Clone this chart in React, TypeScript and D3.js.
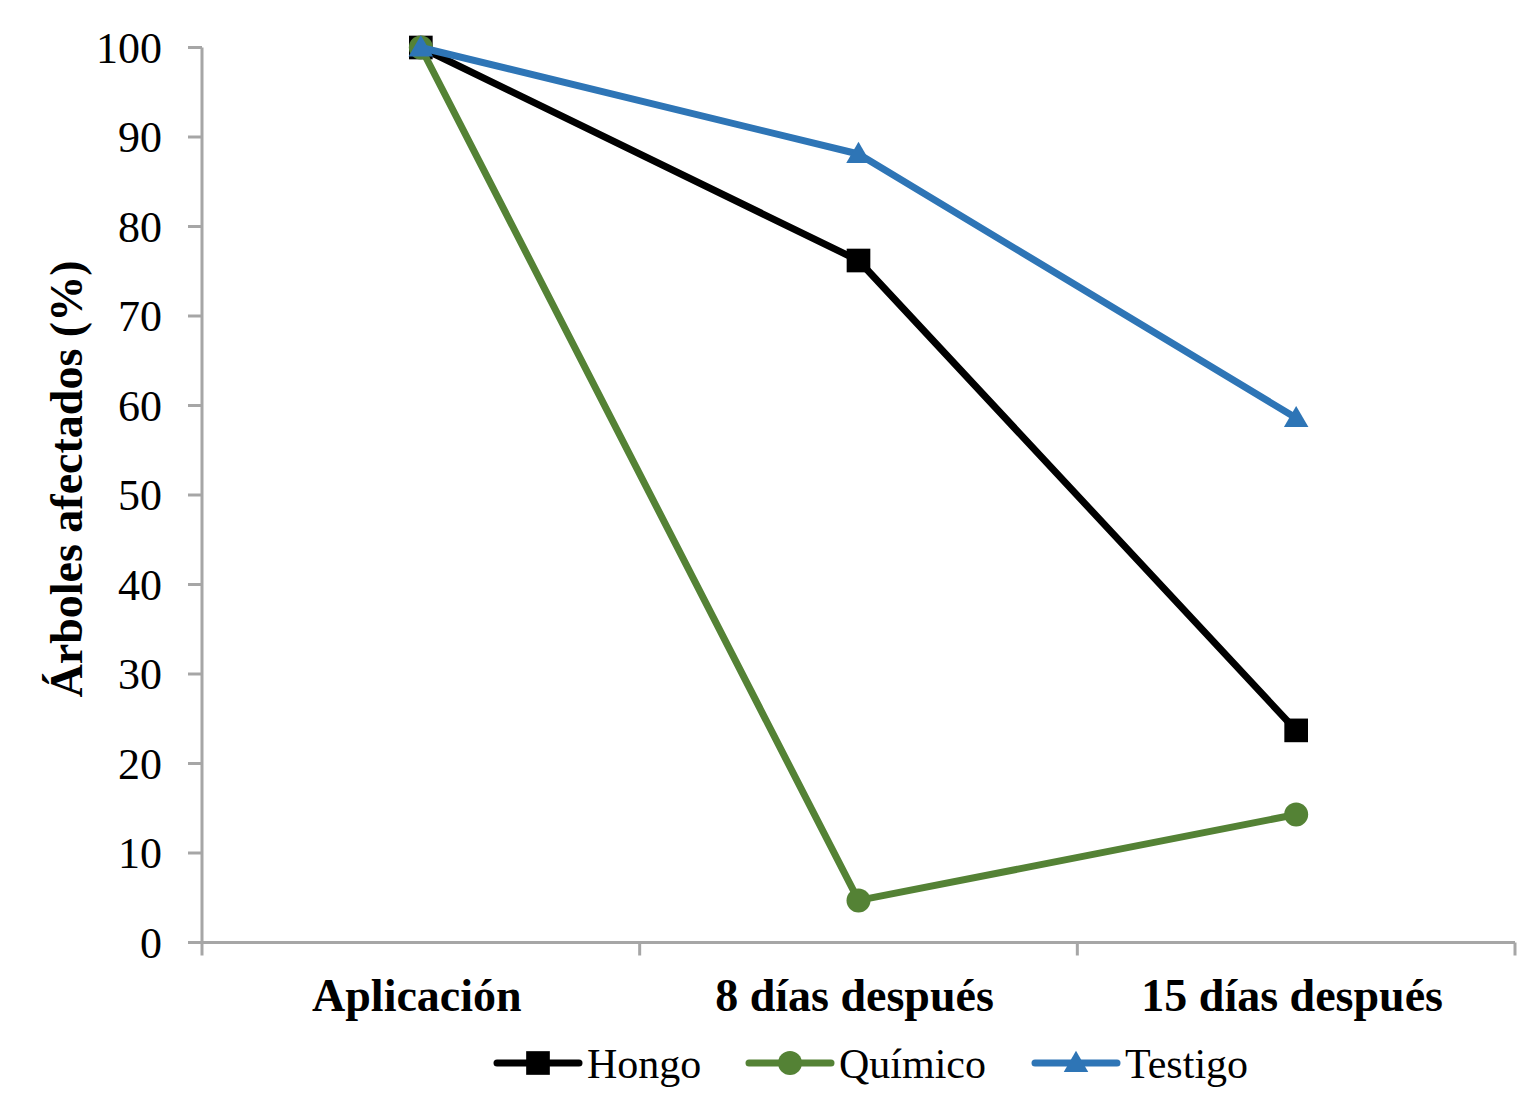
import React from 'react';
import * as d3 from 'd3';

const categories = ['Aplicación', '8 días después', '15 días después'];
const hongo = [100, 76.2, 23.7];
const quimico = [100, 4.7, 14.3];
const testigo = [100, 88.1, 58.6];
const yTicks = [0, 10, 20, 30, 40, 50, 60, 70, 80, 90, 100];

const series = [
  { name: 'Hongo', values: hongo, color: '#000000', symbol: d3.symbolSquare, size: 560 },
  { name: 'Químico', values: quimico, color: '#548235', symbol: d3.symbolCircle, size: 452 },
  { name: 'Testigo', values: testigo, color: '#2E75B6', symbol: d3.symbolTriangle, size: 260 },
];

const FONT = '"Liberation Serif", "Times New Roman", serif';
const AXIS = '#a6a6a6';

const App = () => {
  const width = 1530;
  const height = 1110;
  const left = 202;
  const right = 1515;
  const top = 47.5;
  const bottom = 942.5;

  const x = d3.scalePoint<string>().domain(categories).range([left, right]).padding(0.5);
  const band = d3.scaleBand<string>().domain(categories).range([left, right]);
  const y = d3.scaleLinear().domain([0, 100]).range([bottom, top]);

  const line = d3
    .line<number>()
    .x((_, i) => x(categories[i]) as number)
    .y((d) => y(d));

  const legendX = [538, 790, 1076];
  const legendY = 1063;

  return (
    <svg width={width} height={height} style={{ position: 'absolute', left: 0, top: 0 }}>
      <rect width={width} height={height} fill="#fff" />
      {/* y axis */}
      <line x1={left} x2={left} y1={top} y2={bottom} stroke={AXIS} strokeWidth={3} />
      {yTicks.map((t) => (
        <g key={t}>
          <line x1={left - 14} x2={left} y1={y(t)} y2={y(t)} stroke={AXIS} strokeWidth={3} />
          <text
            x={162}
            y={y(t)}
            dy="0.35em"
            textAnchor="end"
            fontFamily={FONT}
            fontSize={44}
            fill="#000"
          >
            {t}
          </text>
        </g>
      ))}
      {/* x axis */}
      <line x1={left - 14} x2={right} y1={bottom} y2={bottom} stroke={AXIS} strokeWidth={3} />
      {[...categories.map((c) => band(c) as number), right].map((tx, i) => (
        <line key={i} x1={tx} x2={tx} y1={bottom} y2={bottom + 13} stroke={AXIS} strokeWidth={3} />
      ))}
      {categories.map((c) => (
        <text
          key={c}
          x={x(c)! - 4}
          y={1011}
          textAnchor="middle"
          fontFamily={FONT}
          fontSize={46}
          fontWeight="bold"
          fill="#000"
        >
          {c}
        </text>
      ))}
      <text
        transform={`translate(82, ${(top + bottom) / 2 - 16}) rotate(-90)`}
        textAnchor="middle"
        fontFamily={FONT}
        fontSize={46}
        fontWeight="bold"
        fill="#000"
      >
        Árboles afectados (%)
      </text>
      {/* series */}
      {series.map((s) => (
        <g key={s.name}>
          <path d={line(s.values) as string} fill="none" stroke={s.color} strokeWidth={7} strokeLinejoin="round" />
          {s.values.map((v, i) => (
            <path
              key={i}
              d={d3.symbol(s.symbol, s.size)() as string}
              transform={`translate(${x(categories[i])}, ${y(v) + (s.symbol === d3.symbolTriangle ? 2 : 0)})`}
              fill={s.color}
            />
          ))}
        </g>
      ))}
      {/* legend */}
      {series.map((s, i) => (
        <g key={s.name} transform={`translate(${legendX[i]}, ${legendY})`}>
          <line x1={-41} x2={41} y1={0} y2={0} stroke={s.color} strokeWidth={7} strokeLinecap="round" />
          <path
            d={d3.symbol(s.symbol, s.size)() as string}
            transform={`translate(0, ${s.symbol === d3.symbolTriangle ? 2 : 0})`}
            fill={s.color}
          />
          <text x={49} y={0} dy="0.35em" fontFamily={FONT} fontSize={42} fill="#000">
            {s.name}
          </text>
        </g>
      ))}
    </svg>
  );
};

export default App;
